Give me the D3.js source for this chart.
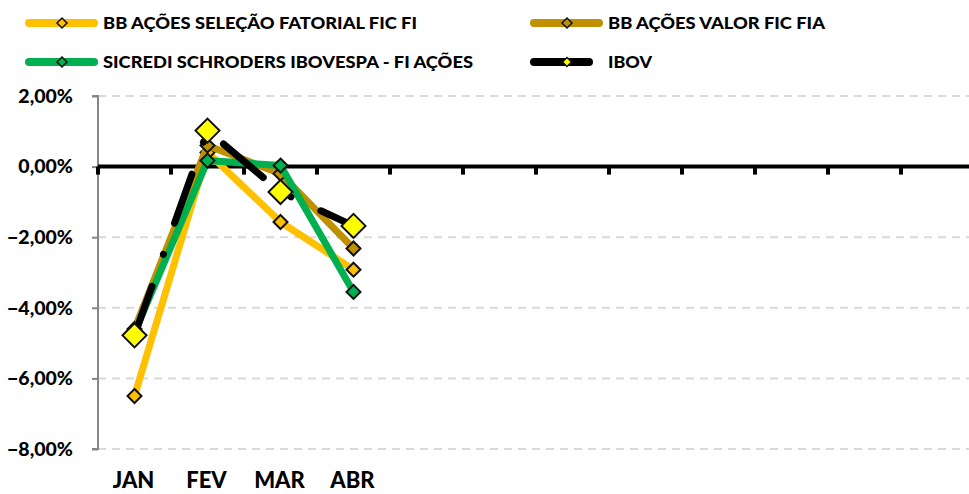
<!DOCTYPE html>
<html><head><meta charset="utf-8">
<script src="https://cdn.jsdelivr.net/npm/d3@7"></script>
<style>body{margin:0;background:#fff}svg{display:block}text{font-family:Lato,"Open Sans",sans-serif;font-weight:900;fill:#000}</style>
</head><body><svg id="c" width="969" height="494"></svg>
<script>
const months = ["JAN","FEV","MAR","ABR","MAI","JUN","JUL","AGO","SET","OUT","NOV","DEZ"];
const shownMonths = ["JAN","FEV","MAR","ABR"];
const seriesNames = ["BB AÇÕES SELEÇÃO FATORIAL FIC FI","BB AÇÕES VALOR FIC FIA","SICREDI SCHRODERS IBOVESPA - FI AÇÕES","IBOV"];
const selecao = [-6.5, 0.4, -1.57, -2.92];
const valor = [-4.6, 0.6, -0.2, -2.32];
const sicredi = [-4.7, 0.17, 0.03, -3.55];
const ibov = [-4.78, 1.02, -0.72, -1.68];
const yTicks = [2, 0, -2, -4, -6, -8];

const colors = ["#FFC000","#BF9000","#00B050","#000000"];
const svg = d3.select("#c");
const x = d3.scaleBand().domain(months).range([98, 98 + 12*73]).padding(0);
const y = d3.scaleLinear().domain([-8, 2]).range([449, 96]);
const fmt = v => d3.format(".2f")(v).replace(".", ",") + "%";

// gridlines
svg.append("g").selectAll("line").data(yTicks.filter(d => d !== 0)).join("line")
  .attr("x1", 98).attr("x2", 969).attr("y1", d => y(d)).attr("y2", d => y(d))
  .attr("stroke", "#D9D9D9").attr("stroke-width", 2).attr("stroke-dasharray", "8 6");

// y axis
const ya = svg.append("g").attr("transform", "translate(98,0)")
  .call(d3.axisLeft(y).tickValues(yTicks).tickFormat(fmt).tickSize(6).tickPadding(19));
ya.select(".domain").attr("stroke", "#868686").attr("stroke-width", 2).attr("d", `M-6,${y(2)}H0V${y(-8)}H-6`);
ya.selectAll(".tick line").attr("stroke", "#868686").attr("stroke-width", 2);
ya.selectAll(".tick text").style("font-size", "19.5px").attr("fill", "#000");

// zero line with ticks
const xa = svg.append("g").attr("transform", `translate(0,${y(0)})`)
  .call(d3.axisBottom(x).tickFormat("").tickSize(0));
xa.select(".domain").remove();
svg.append("line").attr("x1", 98).attr("x2", 969).attr("y1", y(0)).attr("y2", y(0))
  .attr("stroke", "#000").attr("stroke-width", 4);
svg.append("g").selectAll("rect").data(months).join("rect")
  .attr("x", d => x(d) - 2).attr("y", y(0)).attr("width", 4).attr("height", 8).attr("fill", "#000");

// x labels
svg.append("g").selectAll("text").data(shownMonths).join("text")
  .attr("x", d => x(d) + x.bandwidth()/2 - 1).attr("y", 488).attr("text-anchor", "middle")
  .style("font-size", "22px").text(d => d);

const line = d3.line().x((d, i) => x(months[i]) + x.bandwidth()/2).y(d => y(d));
const diamond = (cx, cy, r) => `M${cx},${cy-r}L${cx+r},${cy}L${cx},${cy+r}L${cx-r},${cy}Z`;
const all = [selecao, valor, sicredi, ibov];

all.forEach((vals, s) => {
  const g = svg.append("g");
  const p = g.append("path").attr("d", line(vals)).attr("fill", "none")
    .attr("stroke", colors[s]).attr("stroke-width", 7).attr("stroke-linejoin", "round").attr("stroke-linecap", "round");
  if (s === 3) p.attr("stroke-dasharray", "52 34 0.1 33");
  const r = s === 3 ? 12 : 7;
  const fill = s === 3 ? "#FFFF00" : colors[s];
  g.selectAll("path.m").data(vals).join("path").attr("class", "m")
    .attr("d", (d, i) => diamond(x(months[i]) + x.bandwidth()/2, y(d), r))
    .attr("fill", fill).attr("stroke", "#111").attr("stroke-width", 2);
});

// legend
const leg = [
  {n: 0, lx: 25, ly: 23, tw: 314},
  {n: 1, lx: 530, ly: 23, tw: 217},
  {n: 2, lx: 25, ly: 62, tw: 370},
  {n: 3, lx: 530, ly: 62, tw: 44}
];
leg.forEach(L => {
  const g = svg.append("g");
  const len = L.n === 3 ? 63 : 73;
  g.append("line").attr("x1", L.lx + 4).attr("x2", L.lx + len - 4).attr("y1", L.ly).attr("y2", L.ly)
    .attr("stroke", colors[L.n]).attr("stroke-width", 8).attr("stroke-linecap", "round");
  const cx = L.lx + 37;
  g.append("path").attr("d", diamond(cx, L.ly, L.n === 3 ? 4.5 : 5))
    .attr("fill", L.n === 3 ? "#FFFF00" : colors[L.n]).attr("stroke", "#111").attr("stroke-width", 1.5);
  g.append("text").attr("x", L.lx + 78).attr("y", L.ly + 6).style("font-size", "17.5px")
    .attr("textLength", L.tw).attr("lengthAdjust", "spacingAndGlyphs").text(seriesNames[L.n]);
});
</script></body></html>
